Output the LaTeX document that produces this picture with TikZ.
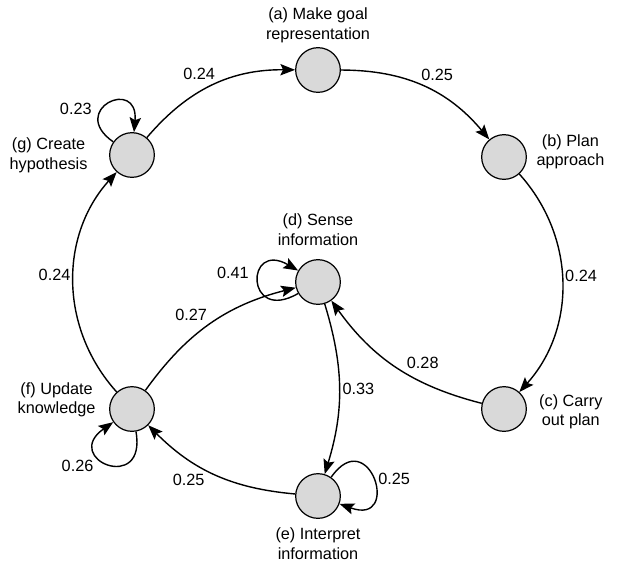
\documentclass[tikz,border=0pt]{standalone}
\usepackage{fontspec}
\setmainfont{Liberation Sans}
\usetikzlibrary{arrows.meta, positioning}

\begin{document}
\begin{tikzpicture}[
        x=0.75pt, y=0.75pt,
        font=\fontsize{12.2}{14.8}\selectfont,
        state/.style={draw, circle, fill=black!15, line width=0.9pt, minimum size=33.5pt, inner sep=0pt},
        txt/.style={align=center, inner sep=0pt},
        arrow/.style={-{Stealth[length=11pt, width=8.5pt, inset=2pt]}, line width=1.05pt},
        prob/.style={auto, inner sep=2pt}
    ]
    \useasboundingbox (0,0) rectangle (618,-562);

    % Nodes
    \node[state] (a) at (318,-70) {};
    \node[state] (b) at (504,-157) {};
    \node[state] (c) at (504,-409) {};
    \node[state] (d) at (318,-282) {};
    \node[state] (e) at (318,-496) {};
    \node[state] (f) at (132,-409) {};
    \node[state] (g) at (132,-155) {};

    % Texts
    \node[txt, above=3pt of a] (a-txt) {(a) Make goal\\representation};
    \node[txt, right=7pt of b, yshift=4pt] (b-txt) {(b) Plan\\approach};
    \node[txt, right=9pt of c, yshift=-2pt] (c-txt) {(c) Carry\\out plan};
    \node[txt, above=10pt of d] (d-txt) {(d) Sense\\information};
    \node[txt, below=6.5pt of e] (e-txt) {(e) Interpret\\information};
    \node[txt, left=10pt of f, yshift=7pt] (f-txt) {(f) Update\\knowledge};
    \node[txt, left=16pt of g] (g-txt) {(g) Create\\hypothesis};

    % Arrows
    \draw[arrow] (g) to[bend left=25] node[prob, pos=0.54] (ga) {0.24} (a);
    \draw[arrow] (a) to[bend left=25] node[prob, pos=0.46] (ab) {0.25} (b);
    \draw[arrow] (b) to[bend left=42] node[prob, pos=0.47] (bc) {0.24} (c);
    \draw[arrow] (c) to[bend left=20] node[prob, swap, pos=0.45] (cd) {0.28} (d);
    \draw[arrow] (d) to[bend left=17] node[prob, pos=0.5] (de) {0.33} (e);
    \draw[arrow] (e) to[bend left=20] node[prob, pos=0.55] (ef) {0.25} (f);
    \draw[arrow] (f) to[bend left=20] node[prob, pos=0.5] (fd) {0.27} (d);
    \draw[arrow] (f) to[bend left=42] node[prob, pos=0.53] (fg) {0.24} (g);

    % Loops
    \draw[arrow] (g) to[out=145, in=85, min distance=42pt] node[left=4pt, pos=0.4] (gg) {0.23} (g);
    \draw[arrow] (f) to[out=-80, in=215, min distance=48pt] node[left=5pt, pos=0.55, yshift=-3pt] (ff) {0.26} (f);
    \draw[arrow] (d) to[out=210, in=150, min distance=46pt] node[left=5pt, pos=0.62] (dd) {0.41} (d);
    \draw[arrow] (e) to[out=55, in=-20, min distance=50pt] node[right, pos=0.5] (ee) {0.25} (e);
\end{tikzpicture}
\end{document}
